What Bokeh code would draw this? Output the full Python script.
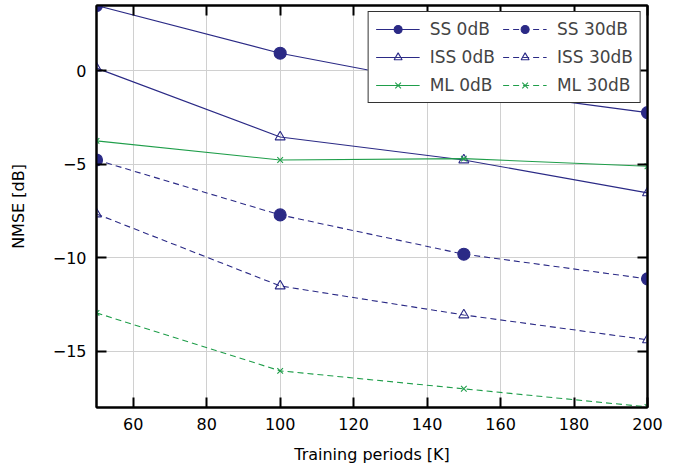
from bokeh.plotting import figure
from bokeh.models import LinearAxis, Legend, LegendItem, FixedTicker, Range1d
from bokeh.embed import file_html
from bokeh.resources import INLINE

K = [50, 100, 150, 200]
ss_0 = [3.5, 0.95, -0.93, -2.23]
iss_0 = [0.15, -3.53, -4.76, -6.52]
ml_0 = [-3.74, -4.76, -4.69, -5.1]
ss_30 = [-4.76, -7.7, -9.8, -11.12]
iss_30 = [-7.65, -11.5, -13.05, -14.38]
ml_30 = [-12.94, -16.04, -17.0, -17.97]
x_ticks = [60, 80, 100, 120, 140, 160, 180, 200]
y_ticks = [0, -5, -10, -15]
y_tick_labels = {0: "0", -5: "\u22125", -10: "\u221210", -15: "\u221215"}

BLUE = "#2b2a86"
GREEN = "#1f9e4a"
FONT = "DejaVu Sans"

p = figure(width=682, height=466, output_backend="svg", toolbar_location=None,
           x_range=Range1d(50, 200), y_range=Range1d(-18, 3.5),
           min_border_left=96, min_border_right=35, min_border_top=5, min_border_bottom=0)
p.outline_line_color = "black"
p.outline_line_width = 2
p.background_fill_color = "white"
p.border_fill_color = "white"

p.xgrid.ticker = FixedTicker(ticks=x_ticks)
p.ygrid.ticker = FixedTicker(ticks=y_ticks)
p.grid.grid_line_color = "#d0d0d0"
p.grid.grid_line_width = 1

for ax in p.xaxis:
    ax.ticker = FixedTicker(ticks=x_ticks)
for ax in p.yaxis:
    ax.ticker = FixedTicker(ticks=y_ticks)
    ax.major_label_overrides = y_tick_labels

for ax in list(p.xaxis) + list(p.yaxis):
    ax.major_tick_in = 10
    ax.major_tick_out = 0
    ax.minor_tick_in = 0
    ax.minor_tick_out = 0
    ax.major_tick_line_width = 2
    ax.major_tick_line_color = "black"
    ax.axis_line_width = 2
    ax.axis_line_color = "black"
    ax.major_label_text_font = FONT
    ax.major_label_text_font_size = "16px"
    ax.major_label_text_color = "black"
    ax.axis_label_text_font = FONT
    ax.axis_label_text_font_size = "16px"
    ax.axis_label_text_font_style = "normal"
    ax.axis_label_text_color = "black"

p.xaxis.axis_label = "Training periods [K]"
p.xaxis.major_label_standoff = 10
p.xaxis.axis_label_standoff = 12
p.yaxis.axis_label = "NMSE [dB]"
p.yaxis.major_label_standoff = 10
p.yaxis.axis_label_standoff = 22

top = LinearAxis(ticker=FixedTicker(ticks=x_ticks))
right = LinearAxis(ticker=FixedTicker(ticks=y_ticks))
for ax in (top, right):
    ax.major_tick_in = 10
    ax.major_tick_out = 0
    ax.minor_tick_in = 0
    ax.minor_tick_out = 0
    ax.major_tick_line_width = 2
    ax.axis_line_width = 2
    ax.major_label_text_font_size = "1px"
    ax.major_label_text_color = None
    ax.major_label_text_alpha = 0
    ax.major_label_standoff = 0
p.add_layout(top, "above")
p.add_layout(right, "right")

def series(y, color, marker, dash, size, fill):
    l = p.line(K, y, line_color=color, line_width=1.1, line_dash=dash)
    kw = dict(size=size, line_color=color, line_width=1.1)
    kw["fill_color"] = color if fill else None
    m = p.scatter(K, y, marker=marker, **kw)
    return [l, m]

r_ss0 = series(ss_0, BLUE, "circle", "solid", 12, True)
r_iss0 = series(iss_0, BLUE, "triangle", "solid", 10, False)
r_ml0 = series(ml_0, GREEN, "x", "solid", 8, False)
r_ss30 = series(ss_30, BLUE, "circle", "6 4", 12, True)
r_iss30 = series(iss_30, BLUE, "triangle", "6 4", 10, False)
r_ml30 = series(ml_30, GREEN, "x", "6 4", 8, False)

legend = Legend(items=[
    LegendItem(label="SS 0dB", renderers=r_ss0),
    LegendItem(label="SS 30dB", renderers=r_ss30),
    LegendItem(label="ISS 0dB", renderers=r_iss0),
    LegendItem(label="ISS 30dB", renderers=r_iss30),
    LegendItem(label="ML 0dB", renderers=r_ml0),
    LegendItem(label="ML 30dB", renderers=r_ml30),
], location="top_right", orientation="horizontal", ncols=2)
legend.label_text_font = FONT
legend.label_text_font_size = "17px"
legend.glyph_width = 44
legend.glyph_height = 20
legend.label_height = 20
legend.label_standoff = 10
legend.spacing = 8
legend.padding = 7
legend.margin = 6
legend.border_line_color = "black"
legend.border_line_width = 1
legend.border_line_alpha = 0.8
legend.background_fill_alpha = 1
p.add_layout(legend, "center")

open("out.html", "w").write(file_html(p, INLINE))
